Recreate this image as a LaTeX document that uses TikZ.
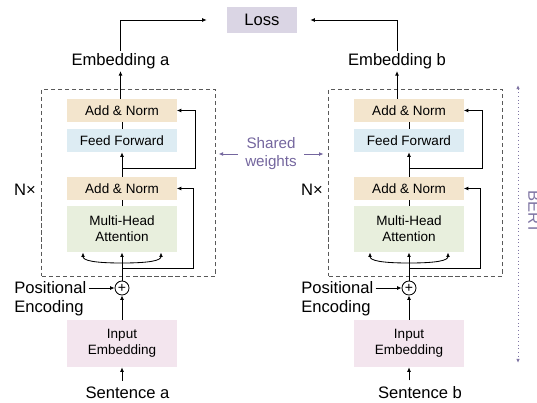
\documentclass[tikz,border=0pt]{standalone}
\usepackage{fontspec}
\setmainfont{Liberation Sans}
\usetikzlibrary{arrows.meta,calc}

\definecolor{normc}{RGB}{243,229,205}
\definecolor{ffc}{RGB}{221,236,243}
\definecolor{attc}{RGB}{232,239,221}
\definecolor{embc}{RGB}{243,229,238}
\definecolor{lossc}{RGB}{218,213,228}
\definecolor{swc}{RGB}{116,102,158}
\definecolor{bertc}{RGB}{128,118,164}

\begin{document}
\begin{tikzpicture}[x=0.025cm,y=-0.025cm,
    lbl/.style={font=\fontsize{11.8pt}{13.5pt}\selectfont, inner sep=1.5pt},
    blk/.style={minimum width=2.725cm, minimum height=0.575cm, inner sep=0pt, align=center,
      font=\fontsize{9.6pt}{11.4pt}\selectfont},
    tallblk/.style={blk, minimum height=1.16cm},
    conn/.style={-{Latex[length=3.2pt,width=2.8pt]}, line width=0.6pt},
    encbox/.style={draw=black!65, dashed, dash pattern=on 3pt off 2pt, line width=0.6pt,
      minimum width=4.33cm, minimum height=4.675cm, inner sep=0pt}]
  \useasboundingbox (0,0) rectangle (537,402);

  \node[lbl, fill=lossc, minimum width=1.75cm, minimum height=0.65cm] (loss) at (262,20) {Loss};

  \foreach \s/\cx/\ex/\sx in {a/122/120.5/127.5, b/409/397/420} {
    \node[encbox] (enc-\s) at (\cx+6.5,182.5) {};
    \node[blk, fill=normc] (an2-\s) at (\cx,110.5) {Add \& Norm};
    \node[blk, fill=ffc] (ff-\s) at (\cx,140.5) {Feed Forward};
    \node[blk, fill=normc] (an1-\s) at (\cx,188.5) {Add \& Norm};
    \node[tallblk, fill=attc] (mha-\s) at (\cx,229) {Multi-Head\\Attention};
    \node[circle, draw, line width=0.6pt, inner sep=0pt, minimum size=0.35cm,
      font=\fontsize{10pt}{10pt}\selectfont] (add-\s) at (\cx,288) {+};
    \node[tallblk, fill=embc, minimum height=1.175cm] (ie-\s) at (\cx,343.5) {Input\\Embedding};
    \node[lbl] (sen-\s) at (\sx,393) {Sentence \s};
    \node[lbl] (emb-\s) at (\ex,61) {Embedding \s};
    \node[lbl, align=left, anchor=west] (pe-\s) at (\cx-110,299) {Positional\\Encoding};
    \node[lbl] (nx-\s) at (\cx-97,190) {N×};

    \coordinate (r2-\s) at (\cx,168);
    \coordinate (r1-\s) at (\cx,268);
    \coordinate (j-\s) at (\cx,263);

    \draw[conn, shorten <=3pt] (ie-\s.south |- sen-\s.north) -- (ie-\s.south);
    \draw[conn] (ie-\s) -- (add-\s);
    \draw[conn] (pe-\s.east |- add-\s) -- (add-\s);
    \draw[conn] (add-\s) -- (mha-\s);
    \draw[conn] (j-\s) .. controls +(-28,0) and +(0,8) .. ($(mha-\s.south)+(-39,0)$);
    \draw[conn] (j-\s) .. controls +(28,0) and +(0,8) .. ($(mha-\s.south)+(39,0)$);
    \draw[conn] (r1-\s) -- ++(71,0) |- (an1-\s.east);
    \draw[line width=0.6pt] (mha-\s) -- (an1-\s);
    \draw[conn] (an1-\s) -- (ff-\s);
    \draw[conn] (r2-\s) -- ++(73,0) |- (an2-\s.east);
    \draw[line width=0.6pt] (ff-\s) -- (an2-\s);
    \draw[conn] (emb-\s.south |- an2-\s.north) -- (emb-\s.south);
  }

  \draw[conn, shorten >=0.5cm] (emb-a.north) |- (loss.west);
  \draw[conn, shorten >=0.325cm] (emb-b.north) |- (loss.east);

  \node[lbl, text=swc, font=\fontsize{10.8pt}{12.8pt}\selectfont, align=center, inner sep=5pt]
    (sw) at (271,154) {Shared\\weights};
  \draw[conn, swc, shorten >=2.2pt] (sw.west) -- (sw.west -| enc-a.east);
  \draw[conn, swc, shorten >=3.5pt] (sw.east) -- (sw.east -| enc-b.west);

  \coordinate (bert-top) at (518,85);
  \coordinate (bert-bot) at (518,363);
  \draw[{Latex[length=3pt,width=2.6pt]}-{Latex[length=3pt,width=2.6pt]}, bertc, dotted,
    line width=0.6pt] (bert-top) -- (bert-bot);
  \node[lbl, text=bertc, rotate=-90, anchor=south] (bert) at (526,212) {BERT};
\end{tikzpicture}
\end{document}
